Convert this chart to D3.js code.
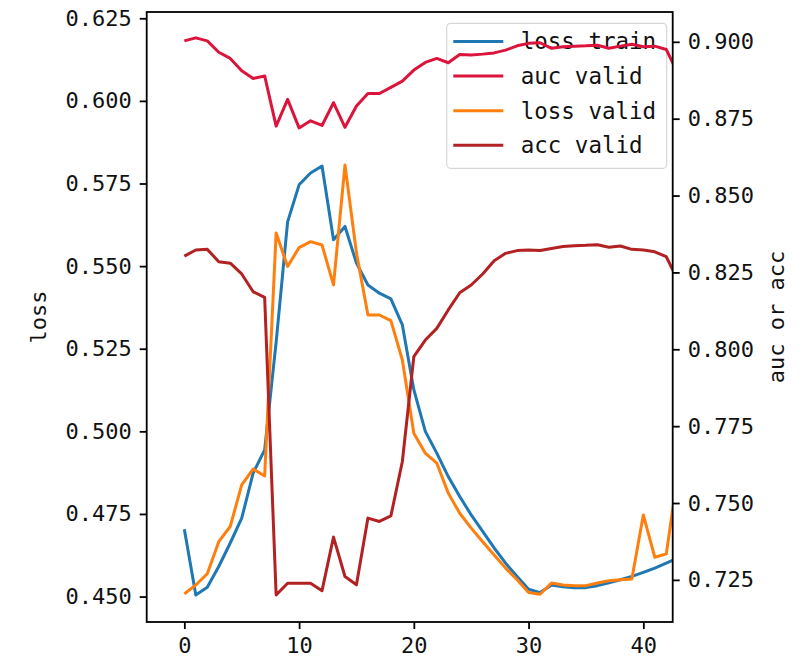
<!DOCTYPE html>
<html>
<head>
<meta charset="utf-8">
<script src="https://cdn.jsdelivr.net/npm/d3@7"></script>
<style>
  body { margin: 0; background: #fff; }
  svg { display: block; font-family: "DejaVu Sans Mono", monospace; }
</style>
</head>
<body>
<div id="chart"></div>
<script>
// values, one per epoch
const lossTrain = [0.4704, 0.4505, 0.4528, 0.4591, 0.4662, 0.4737, 0.4874, 0.4944, 0.5270, 0.5634,
  0.5746, 0.5782, 0.5803, 0.5580, 0.5620, 0.5509, 0.5443, 0.5418, 0.5401, 0.5322,
  0.5126, 0.5000, 0.4934, 0.4863, 0.4803, 0.4747, 0.4697, 0.4647, 0.4601, 0.4561,
  0.4522, 0.4512, 0.4535, 0.4530, 0.4527, 0.4527, 0.4533, 0.4542, 0.4551, 0.4561,
  0.4573, 0.4586, 0.4601, 0.4617];
const lossValid = [0.4508, 0.4535, 0.4569, 0.4666, 0.4712, 0.4838, 0.4886, 0.4865, 0.5600, 0.5499,
  0.5556, 0.5574, 0.5564, 0.5443, 0.5806, 0.5540, 0.5352, 0.5352, 0.5335, 0.5216,
  0.4994, 0.4934, 0.4904, 0.4813, 0.4752, 0.4707, 0.4666, 0.4626, 0.4586, 0.4551,
  0.4512, 0.4507, 0.4541, 0.4535, 0.4533, 0.4533, 0.4541, 0.4548, 0.4551, 0.4553,
  0.4747, 0.4619, 0.4629, 0.4870];
const aucValid = [0.9003, 0.9013, 0.9003, 0.8966, 0.8946, 0.8906, 0.8881, 0.8889, 0.8726, 0.8813,
  0.8720, 0.8743, 0.8728, 0.8802, 0.8722, 0.8791, 0.8832, 0.8832, 0.8852, 0.8872,
  0.8908, 0.8933, 0.8946, 0.8932, 0.8959, 0.8957, 0.8960, 0.8964, 0.8973, 0.8987,
  0.8995, 0.8997, 0.8979, 0.8984, 0.8986, 0.8987, 0.8989, 0.8979, 0.8986, 0.8992,
  0.8984, 0.8986, 0.8975, 0.8898];
const accValid = [0.8303, 0.8323, 0.8325, 0.8285, 0.8280, 0.8245, 0.8187, 0.8169, 0.7201, 0.7239,
  0.7239, 0.7239, 0.7215, 0.7389, 0.7261, 0.7234, 0.7451, 0.7440, 0.7458, 0.7635,
  0.7976, 0.8030, 0.8068, 0.8128, 0.8184, 0.8209, 0.8245, 0.8288, 0.8312, 0.8321,
  0.8323, 0.8321, 0.8328, 0.8334, 0.8337, 0.8338, 0.8340, 0.8332, 0.8336, 0.8325,
  0.8323, 0.8317, 0.8301, 0.8225];
const epochs = lossTrain.map((d, i) => i);

const xTicks = [0, 10, 20, 30, 40];
const lossTicks = [0.450, 0.475, 0.500, 0.525, 0.550, 0.575, 0.600, 0.625];
const rateTicks = [0.725, 0.750, 0.775, 0.800, 0.825, 0.850, 0.875, 0.900];
const legendNames = ["loss train", "auc valid", "loss valid", "acc valid"];
const legendColors = ["#1f77b4", "#dc143c", "#ff7f0e", "#b22222"];

const width = 803, height = 659;
const box = { left: 146.7, top: 12, right: 672.7, bottom: 622 };

const svg = d3.select("#chart")
  .append("svg")
  .attr("width", width)
  .attr("height", height);

// scales
const x = d3.scaleLinear().domain([-3.28, 42.56]).range([box.left, box.right]);
const yLoss = d3.scaleLinear().domain([0.4423, 0.6269]).range([box.bottom, box.top]);
const yRate = d3.scaleLinear().domain([0.7113, 0.9097]).range([box.bottom, box.top]);

svg.append("defs")
  .append("clipPath")
  .attr("id", "plot-clip")
  .append("rect")
  .attr("x", box.left)
  .attr("y", box.top)
  .attr("width", box.right - box.left)
  .attr("height", box.bottom - box.top);

function drawLine(values, yScale, color) {
  const line = d3.line()
    .x((d, i) => x(epochs[i]))
    .y(d => yScale(d));
  svg.append("path")
    .datum(values)
    .attr("clip-path", "url(#plot-clip)")
    .attr("fill", "none")
    .attr("stroke", color)
    .attr("stroke-width", 3)
    .attr("stroke-linejoin", "round")
    .attr("d", line);
}

// left axis lines
drawLine(lossTrain, yLoss, legendColors[0]);
drawLine(lossValid, yLoss, legendColors[2]);

// legend (belongs to the left axes, so the right axes' lines go over it)
const legend = svg.append("g");
legend.append("rect")
  .attr("x", 446.7)
  .attr("y", 23.3)
  .attr("width", 220)
  .attr("height", 145)
  .attr("rx", 4)
  .attr("fill", "#fff")
  .attr("fill-opacity", 0.8)
  .attr("stroke", "#d6d6d6")
  .attr("stroke-width", 1.2);
const legendRows = legend.selectAll("g.row")
  .data(legendNames)
  .enter()
  .append("g")
  .attr("class", "row")
  .attr("transform", (d, i) => `translate(0, ${41.5 + i * 34.6})`);
legendRows.append("line")
  .attr("x1", 453.3)
  .attr("x2", 503.3)
  .attr("stroke", (d, i) => legendColors[i])
  .attr("stroke-width", 3);
legendRows.append("text")
  .attr("x", 520.7)
  .attr("dy", "0.35em")
  .attr("font-size", 22.5)
  .attr("fill", "#111")
  .text(d => d);

// right axis lines
drawLine(aucValid, yRate, legendColors[1]);
drawLine(accValid, yRate, legendColors[3]);

// axes
const axisLeft = svg.append("g")
  .attr("transform", `translate(${box.left},0)`)
  .call(d3.axisLeft(yLoss).tickValues(lossTicks).tickFormat(d3.format(".3f")).tickSize(7).tickPadding(8));
const axisRight = svg.append("g")
  .attr("transform", `translate(${box.right},0)`)
  .call(d3.axisRight(yRate).tickValues(rateTicks).tickFormat(d3.format(".3f")).tickSize(7).tickPadding(8));
const axisBottom = svg.append("g")
  .attr("transform", `translate(0,${box.bottom})`)
  .call(d3.axisBottom(x).tickValues(xTicks).tickSize(7).tickPadding(8));

[axisLeft, axisRight, axisBottom].forEach(g => {
  g.select(".domain").remove();
  g.selectAll(".tick line").attr("stroke", "#000").attr("stroke-width", 1.8);
  g.selectAll(".tick text")
    .attr("font-family", "DejaVu Sans Mono")
    .attr("font-size", 22)
    .attr("fill", "#111");
});

// frame
svg.append("rect")
  .attr("x", box.left)
  .attr("y", box.top)
  .attr("width", box.right - box.left)
  .attr("height", box.bottom - box.top)
  .attr("fill", "none")
  .attr("stroke", "#000")
  .attr("stroke-width", 1.8);

// axis titles
svg.append("text")
  .attr("transform", `translate(38,${(box.top + box.bottom) / 2}) rotate(-90)`)
  .attr("text-anchor", "middle")
  .attr("dy", "0.35em")
  .attr("font-size", 22)
  .attr("fill", "#111")
  .text("loss");
svg.append("text")
  .attr("transform", `translate(776,${(box.top + box.bottom) / 2}) rotate(-90)`)
  .attr("text-anchor", "middle")
  .attr("dy", "0.35em")
  .attr("font-size", 22)
  .attr("fill", "#111")
  .text("auc or acc");
</script>
</body>
</html>
